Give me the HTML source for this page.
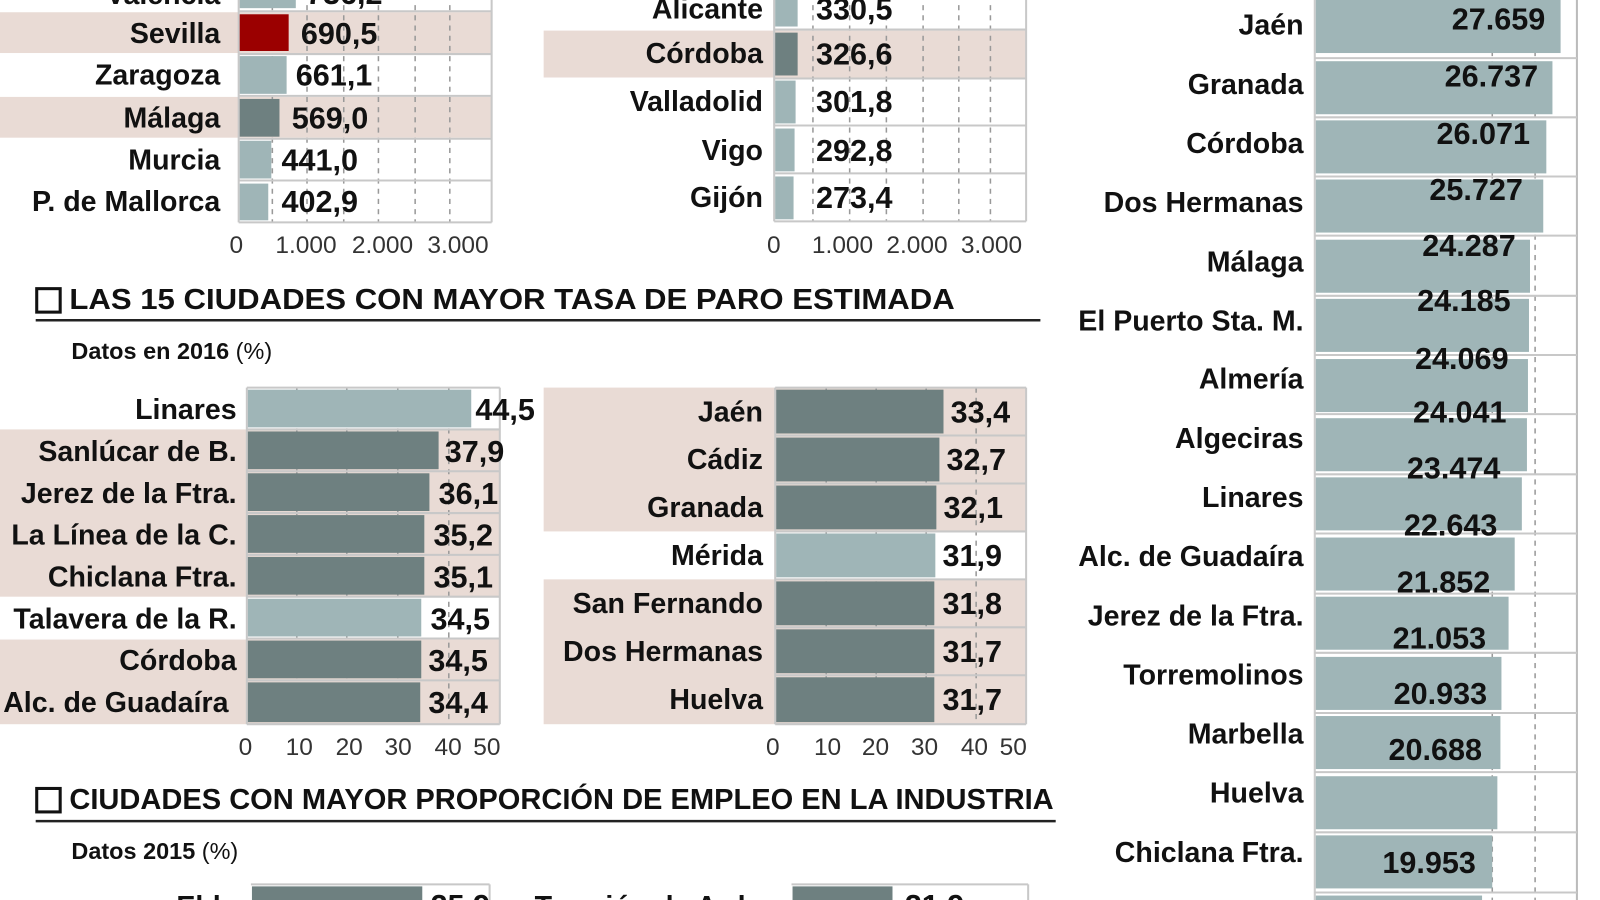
<!DOCTYPE html>
<html><head><meta charset="utf-8"><style>
html,body{margin:0;padding:0;background:#fff;}
svg{display:block;}
text{font-family:"Liberation Sans",sans-serif;fill:#111;}
.l{font-size:28px;font-weight:bold;text-anchor:end;}
.v{font-size:30px;font-weight:bold;}
.ax{font-size:24px;fill:#333;}
.h{font-size:28px;font-weight:bold;}
.s{font-size:23px;font-weight:bold;}
.g{stroke:#999;stroke-width:1.5;stroke-dasharray:5,5;}
.sep{stroke:#c8c8c8;stroke-width:2;}
</style></head><body>
<svg width="1600" height="900" viewBox="0 0 1600 900">
<g transform="scale(1.02)">
<!-- TOP LEFT -->
<rect x="0" y="12" width="482" height="40" fill="#e9dbd5"/>
<rect x="0" y="95" width="482" height="40" fill="#e9dbd5"/>
<g class="g"><line x1="267" y1="-5" x2="267" y2="218"/><line x1="301" y1="-5" x2="301" y2="218"/><line x1="337" y1="-5" x2="337" y2="218"/><line x1="371" y1="-5" x2="371" y2="218"/><line x1="407" y1="-5" x2="407" y2="218"/><line x1="441" y1="-5" x2="441" y2="218"/></g>
<g class="sep"><line x1="234" y1="11" x2="482" y2="11"/><line x1="234" y1="53" x2="482" y2="53"/><line x1="234" y1="94" x2="482" y2="94"/><line x1="234" y1="136" x2="482" y2="136"/><line x1="234" y1="177" x2="482" y2="177"/><line x1="234" y1="218" x2="482" y2="218"/><line x1="234" y1="0" x2="234" y2="218"/><line x1="482" y1="0" x2="482" y2="218"/></g>
<rect x="235" y="-10" width="55" height="18" fill="#9fb5b7"/>
<rect x="235" y="14" width="48" height="36" fill="#9b0000"/>
<rect x="235" y="55" width="46" height="37" fill="#9fb5b7"/>
<rect x="235" y="97" width="39" height="37" fill="#6e8080"/>
<rect x="235" y="138" width="31" height="37" fill="#9fb5b7"/>
<rect x="235" y="180" width="28" height="36" fill="#9fb5b7"/>
<text class="l" x="216" y="4">Valencia</text><text class="v" x="300" y="4">736,2</text>
<text class="l" x="216" y="42">Sevilla</text><text class="v" x="295" y="43">690,5</text>
<text class="l" x="216" y="83">Zaragoza</text><text class="v" x="290" y="84">661,1</text>
<text class="l" x="216" y="125">Málaga</text><text class="v" x="286" y="126">569,0</text>
<text class="l" x="216" y="166">Murcia</text><text class="v" x="276" y="167">441,0</text>
<text class="l" x="216" y="207">P. de Mallorca</text><text class="v" x="276" y="208">402,9</text>
<text class="ax" x="225" y="248">0</text><text class="ax" x="270" y="248">1.000</text><text class="ax" x="345" y="248">2.000</text><text class="ax" x="419" y="248">3.000</text>
<!-- TOP MIDDLE -->
<rect x="533" y="30" width="473" height="46" fill="#e9dbd5"/>
<g class="g"><line x1="797" y1="-5" x2="797" y2="217"/><line x1="833" y1="-5" x2="833" y2="217"/><line x1="869" y1="-5" x2="869" y2="217"/><line x1="905" y1="-5" x2="905" y2="217"/><line x1="940" y1="-5" x2="940" y2="217"/><line x1="971" y1="-5" x2="971" y2="217"/></g>
<g class="sep"><line x1="759" y1="29" x2="1006" y2="29"/><line x1="759" y1="77" x2="1006" y2="77"/><line x1="759" y1="123" x2="1006" y2="123"/><line x1="759" y1="170" x2="1006" y2="170"/><line x1="759" y1="217" x2="1006" y2="217"/><line x1="759" y1="0" x2="759" y2="217"/><line x1="1006" y1="0" x2="1006" y2="217"/></g>
<rect x="760" y="-5" width="22" height="31" fill="#9fb5b7"/>
<rect x="760" y="32" width="22" height="42" fill="#6e8080"/>
<rect x="760" y="79" width="20" height="42" fill="#9fb5b7"/>
<rect x="760" y="126" width="19" height="42" fill="#9fb5b7"/>
<rect x="760" y="173" width="18" height="42" fill="#9fb5b7"/>
<text class="l" x="748" y="18">Alicante</text><text class="v" x="800" y="19">330,5</text>
<text class="l" x="748" y="62">Córdoba</text><text class="v" x="800" y="63">326,6</text>
<text class="l" x="748" y="109">Valladolid</text><text class="v" x="800" y="110">301,8</text>
<text class="l" x="748" y="157">Vigo</text><text class="v" x="800" y="158">292,8</text>
<text class="l" x="748" y="203">Gijón</text><text class="v" x="800" y="204">273,4</text>
<text class="ax" x="752" y="248">0</text><text class="ax" x="796" y="248">1.000</text><text class="ax" x="869" y="248">2.000</text><text class="ax" x="942" y="248">3.000</text>
<!-- HEADING 1 -->
<rect x="36" y="283" width="23" height="23" fill="none" stroke="#111" stroke-width="3"/>
<text class="h" x="68" y="303" textLength="868" lengthAdjust="spacingAndGlyphs">LAS 15 CIUDADES CON MAYOR TASA DE PARO ESTIMADA</text>
<line x1="35" y1="314" x2="1020" y2="314" stroke="#222" stroke-width="2.5"/>
<text class="s" x="70" y="352">Datos en 2016 <tspan font-weight="normal">(%)</tspan></text>
<!-- PARO LEFT -->
<rect x="0" y="421" width="490" height="205" fill="#e9dbd5"/>
<rect x="0" y="585" width="490" height="41" fill="#fff"/>
<rect x="0" y="627" width="490" height="83" fill="#e9dbd5"/>
<g class="g"><line x1="291" y1="380" x2="291" y2="710"/><line x1="340" y1="380" x2="340" y2="710"/><line x1="390" y1="380" x2="390" y2="710"/><line x1="440" y1="380" x2="440" y2="710"/></g>
<g class="sep"><line x1="242" y1="380" x2="490" y2="380"/><line x1="242" y1="421" x2="490" y2="421"/><line x1="242" y1="462" x2="490" y2="462"/><line x1="242" y1="503" x2="490" y2="503"/><line x1="242" y1="544" x2="490" y2="544"/><line x1="242" y1="585" x2="490" y2="585"/><line x1="242" y1="626" x2="490" y2="626"/><line x1="242" y1="667" x2="490" y2="667"/><line x1="242" y1="710" x2="490" y2="710"/><line x1="242" y1="380" x2="242" y2="710"/><line x1="490" y1="380" x2="490" y2="710"/></g>
<rect x="243" y="382" width="219" height="37" fill="#9fb5b7"/>
<rect x="243" y="423" width="187" height="37" fill="#6e8080"/>
<rect x="243" y="464" width="178" height="37" fill="#6e8080"/>
<rect x="243" y="505" width="173" height="37" fill="#6e8080"/>
<rect x="243" y="546" width="173" height="37" fill="#6e8080"/>
<rect x="243" y="587" width="170" height="37" fill="#9fb5b7"/>
<rect x="243" y="628" width="170" height="37" fill="#6e8080"/>
<rect x="243" y="669" width="169" height="39" fill="#6e8080"/>
<text class="l" x="232" y="411">Linares</text><text class="v" x="466" y="412">44,5</text>
<text class="l" x="232" y="452">Sanlúcar de B.</text><text class="v" x="436" y="453">37,9</text>
<text class="l" x="232" y="493">Jerez de la Ftra.</text><text class="v" x="430" y="494">36,1</text>
<text class="l" x="232" y="534">La Línea de la C.</text><text class="v" x="425" y="535">35,2</text>
<text class="l" x="232" y="575">Chiclana Ftra.</text><text class="v" x="425" y="576">35,1</text>
<text class="l" x="232" y="616">Talavera de la R.</text><text class="v" x="422" y="617">34,5</text>
<text class="l" x="232" y="657">Córdoba</text><text class="v" x="420" y="658">34,5</text>
<text class="l" x="224" y="698">Alc. de Guadaíra</text><text class="v" x="420" y="699">34,4</text>
<text class="ax" x="234" y="740">0</text><text class="ax" x="280" y="740">10</text><text class="ax" x="329" y="740">20</text><text class="ax" x="377" y="740">30</text><text class="ax" x="426" y="740">40</text><text class="ax" x="464" y="740">50</text>
<!-- PARO RIGHT -->
<rect x="533" y="380" width="473" height="141" fill="#e9dbd5"/>
<rect x="533" y="568" width="473" height="142" fill="#e9dbd5"/>
<g class="g"><line x1="810" y1="380" x2="810" y2="710"/><line x1="859" y1="380" x2="859" y2="710"/><line x1="908" y1="380" x2="908" y2="710"/><line x1="957" y1="380" x2="957" y2="710"/></g>
<g class="sep"><line x1="760" y1="380" x2="1006" y2="380"/><line x1="760" y1="427" x2="1006" y2="427"/><line x1="760" y1="474" x2="1006" y2="474"/><line x1="760" y1="521" x2="1006" y2="521"/><line x1="760" y1="568" x2="1006" y2="568"/><line x1="760" y1="615" x2="1006" y2="615"/><line x1="760" y1="662" x2="1006" y2="662"/><line x1="760" y1="710" x2="1006" y2="710"/><line x1="760" y1="380" x2="760" y2="710"/><line x1="1006" y1="380" x2="1006" y2="710"/></g>
<rect x="761" y="382" width="164" height="43" fill="#6e8080"/>
<rect x="761" y="429" width="160" height="43" fill="#6e8080"/>
<rect x="761" y="476" width="157" height="43" fill="#6e8080"/>
<rect x="761" y="523" width="156" height="43" fill="#9fb5b7"/>
<rect x="761" y="570" width="155" height="43" fill="#6e8080"/>
<rect x="761" y="617" width="155" height="43" fill="#6e8080"/>
<rect x="761" y="664" width="155" height="44" fill="#6e8080"/>
<text class="l" x="748" y="413">Jaén</text><text class="v" x="932" y="414">33,4</text>
<text class="l" x="748" y="460">Cádiz</text><text class="v" x="928" y="461">32,7</text>
<text class="l" x="748" y="507">Granada</text><text class="v" x="925" y="508">32,1</text>
<text class="l" x="748" y="554">Mérida</text><text class="v" x="924" y="555">31,9</text>
<text class="l" x="748" y="601">San Fernando</text><text class="v" x="924" y="602">31,8</text>
<text class="l" x="748" y="648">Dos Hermanas</text><text class="v" x="924" y="649">31,7</text>
<text class="l" x="748" y="695">Huelva</text><text class="v" x="924" y="696">31,7</text>
<text class="ax" x="751" y="740">0</text><text class="ax" x="798" y="740">10</text><text class="ax" x="845" y="740">20</text><text class="ax" x="893" y="740">30</text><text class="ax" x="942" y="740">40</text><text class="ax" x="980" y="740">50</text>
<!-- HEADING 2 -->
<rect x="36" y="773" width="23" height="23" fill="none" stroke="#111" stroke-width="3"/>
<text class="h" x="68" y="793" textLength="965" lengthAdjust="spacingAndGlyphs">CIUDADES CON MAYOR PROPORCIÓN DE EMPLEO EN LA INDUSTRIA</text>
<line x1="35" y1="805" x2="1035" y2="805" stroke="#222" stroke-width="2.5"/>
<text class="s" x="70" y="842">Datos 2015 <tspan font-weight="normal">(%)</tspan></text>
<line x1="246" y1="867" x2="480" y2="867" class="sep"/><line x1="480" y1="867" x2="480" y2="900" class="sep"/>
<rect x="247" y="869" width="167" height="40" fill="#6e8080"/>
<text class="l" x="232" y="898">Elda</text><text class="v" x="422" y="898">25,9</text>
<line x1="776" y1="867" x2="1008" y2="867" class="sep"/><line x1="1008" y1="867" x2="1008" y2="900" class="sep"/>
<rect x="777" y="869" width="98" height="40" fill="#6e8080"/>
<text class="l" x="762" y="898">Torrejón de Ardoz</text><text class="v" x="887" y="898">21,9</text>
<!-- RIGHT CHART -->
<g class="g"><line x1="1463" y1="0" x2="1463" y2="900"/><line x1="1505" y1="0" x2="1505" y2="900"/></g>
<line x1="1546" y1="0" x2="1546" y2="900" stroke="#bbb" stroke-width="2"/>
<line x1="1289" y1="0" x2="1289" y2="900" stroke="#ccc" stroke-width="2"/>
<g class="sep">
<line x1="1289" y1="57" x2="1546" y2="57"/><line x1="1289" y1="115" x2="1546" y2="115"/><line x1="1289" y1="173" x2="1546" y2="173"/><line x1="1289" y1="231" x2="1546" y2="231"/><line x1="1289" y1="290" x2="1546" y2="290"/><line x1="1289" y1="348" x2="1546" y2="348"/><line x1="1289" y1="406" x2="1546" y2="406"/><line x1="1289" y1="465" x2="1546" y2="465"/><line x1="1289" y1="523" x2="1546" y2="523"/><line x1="1289" y1="582" x2="1546" y2="582"/><line x1="1289" y1="640" x2="1546" y2="640"/><line x1="1289" y1="699" x2="1546" y2="699"/><line x1="1289" y1="757" x2="1546" y2="757"/><line x1="1289" y1="816" x2="1546" y2="816"/><line x1="1289" y1="875" x2="1546" y2="875"/>
</g>
<g fill="#9fb5b7">
<rect x="1290" y="0" width="240" height="52"/>
<rect x="1290" y="60" width="232" height="52"/>
<rect x="1290" y="118" width="226" height="52"/>
<rect x="1290" y="176" width="223" height="52"/>
<rect x="1290" y="235" width="210" height="52"/>
<rect x="1290" y="293" width="209" height="52"/>
<rect x="1290" y="352" width="208" height="52"/>
<rect x="1290" y="410" width="207" height="52"/>
<rect x="1290" y="468" width="202" height="52"/>
<rect x="1290" y="527" width="195" height="52"/>
<rect x="1290" y="585" width="189" height="52"/>
<rect x="1290" y="644" width="182" height="52"/>
<rect x="1290" y="702" width="181" height="52"/>
<rect x="1290" y="761" width="178" height="52"/>
<rect x="1290" y="819" width="173" height="52"/>
<rect x="1290" y="878" width="163" height="30"/>
</g>
<text class="l" x="1278" y="34">Jaén</text>
<text class="l" x="1278" y="92">Granada</text>
<text class="l" x="1278" y="150">Córdoba</text>
<text class="l" x="1278" y="208">Dos Hermanas</text>
<text class="l" x="1278" y="266">Málaga</text>
<text class="l" x="1278" y="324">El Puerto Sta. M.</text>
<text class="l" x="1278" y="381">Almería</text>
<text class="l" x="1278" y="439">Algeciras</text>
<text class="l" x="1278" y="497">Linares</text>
<text class="l" x="1278" y="555">Alc. de Guadaíra</text>
<text class="l" x="1278" y="613">Jerez de la Ftra.</text>
<text class="l" x="1278" y="671">Torremolinos</text>
<text class="l" x="1278" y="729">Marbella</text>
<text class="l" x="1278" y="787">Huelva</text>
<text class="l" x="1278" y="845">Chiclana Ftra.</text>
<g class="v" text-anchor="end">
<text x="1515" y="29">27.659</text>
<text x="1508" y="85">26.737</text>
<text x="1500" y="141">26.071</text>
<text x="1493" y="196">25.727</text>
<text x="1486" y="251">24.287</text>
<text x="1481" y="305">24.185</text>
<text x="1479" y="362">24.069</text>
<text x="1477" y="414">24.041</text>
<text x="1471" y="469">23.474</text>
<text x="1468" y="525">22.643</text>
<text x="1461" y="581">21.852</text>
<text x="1457" y="636">21.053</text>
<text x="1458" y="690">20.933</text>
<text x="1453" y="745">20.688</text>
<text x="1447" y="856">19.953</text>
</g>
</g>
</svg>
</body></html>
